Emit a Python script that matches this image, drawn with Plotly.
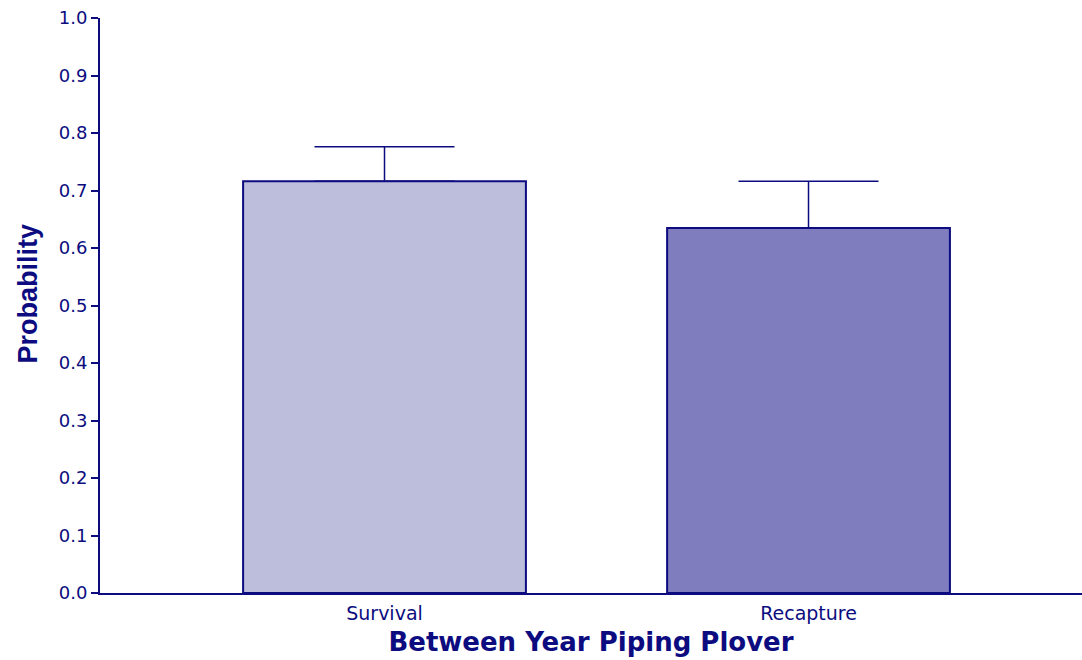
import plotly.graph_objects as go

# Between-year estimates for piping plovers
categories = ["Survival", "Recapture"]
estimates = [0.716, 0.635]
upper_errors = [0.060, 0.081]
fill_colors = ["#bdbedc", "#7f7dbd"]

navy = "#0c0c80"
wide_sans = "DejaVu Sans, Verdana, sans-serif"
narrow_sans = "Liberation Sans, Arial, sans-serif"

fig = go.Figure(
    go.Bar(
        x=categories,
        y=estimates,
        width=0.667,
        marker=dict(color=fill_colors, line=dict(color=navy, width=2)),
        error_y=dict(
            type="data",
            symmetric=False,
            array=upper_errors,
            arrayminus=[0, 0],
            color=navy,
            thickness=1.5,
            width=70,
        ),
        showlegend=False,
    )
)

fig.update_layout(
    width=1082,
    height=660,
    margin=dict(l=100, r=0, t=18, b=67),
    paper_bgcolor="white",
    plot_bgcolor="white",
    font=dict(family=wide_sans, color=navy),
    xaxis=dict(
        range=[-0.671, 1.645],
        showline=True,
        linecolor=navy,
        linewidth=2,
        ticks="",
        showgrid=False,
        ticklabelstandoff=2,
        tickfont=dict(family=wide_sans, size=19, color=navy),
        title=dict(
            text="<b>Between Year Piping Plover</b>",
            font=dict(family=wide_sans, size=26, color=navy),
            standoff=10,
        ),
    ),
    yaxis=dict(
        range=[0, 1.0],
        tickmode="array",
        tickvals=[i / 10 for i in range(11)],
        ticktext=[f"{i / 10:.1f}" for i in range(11)],
        showline=True,
        linecolor=navy,
        linewidth=2,
        ticks="outside",
        ticklen=7,
        tickwidth=1.5,
        tickcolor=navy,
        showgrid=False,
        zeroline=False,
        tickfont=dict(family=wide_sans, size=18, color=navy),
    ),
    annotations=[
        dict(
            text="<b>Probability</b>",
            textangle=-90,
            xref="paper",
            yref="paper",
            x=0,
            y=0.5,
            xanchor="center",
            yanchor="middle",
            xshift=-73,
            yshift=12,
            showarrow=False,
            font=dict(family=narrow_sans, size=27, color=navy),
        )
    ],
)

fig.write_html("out.html")
